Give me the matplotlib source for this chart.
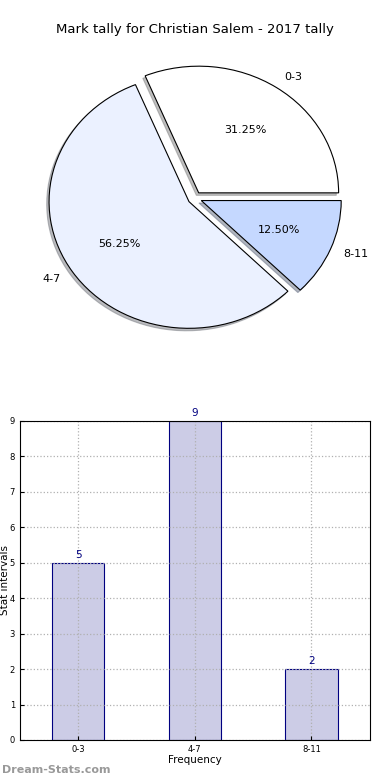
import numpy as np
import matplotlib.pyplot as plt

# data
categories = ['0-3', '4-7', '8-11']
counts = [5, 9, 2]
pie_colors = ['#ffffff', '#ebf1ff', '#c5d8ff']
title = 'Mark tally for Christian Salem - 2017 tally'

fig = plt.figure(figsize=(3.9, 7.8), dpi=100)

# pie (not forced round, like the old style)
ax1 = fig.add_axes([0.051, 0.543, 0.897, 0.406])
wedges, texts, autotexts = ax1.pie(counts, labels=categories, colors=pie_colors,
                                   explode=[0.05, 0.05, 0.05], autopct='%1.2f%%',
                                   shadow={'ox': -0.012, 'oy': -0.014, 'shade': 0.5},
                                   startangle=0,
                                   wedgeprops=dict(edgecolor='black', linewidth=0.8),
                                   textprops=dict(fontsize=8))
ax1.set_aspect('auto')
ax1.set_xlim(-1.25, 1.25)
ax1.set_ylim(-1.25, 1.25)
fig.text(0.5, 1 - 30 / 780, title, ha='center', va='center', fontsize=9.5)

# bars
ax2 = fig.add_axes([0.051, 0.0513, 0.897, 0.409])
x = np.arange(len(categories))
bars = ax2.bar(x, counts, width=0.45, color='#ccccE6', edgecolor='#000080', linewidth=0.8)
for xi, c in zip(x, counts):
    ax2.text(xi, c + 0.08, str(c), ha='center', va='bottom', color='#000080', fontsize=7.5)
ax2.set_xlim(-0.5, 2.5)
ax2.set_ylim(0, 9)
ax2.set_xticks(x)
ax2.set_xticklabels(categories)
ax2.set_yticks(range(0, 10))
ax2.tick_params(labelsize=6, direction='in', length=3)
ax2.grid(True, linestyle=':', color='#b0b0b0', linewidth=0.9)
ax2.set_axisbelow('line')
ax2.set_xlabel('Frequency', fontsize=7.5, labelpad=1)
ax2.set_ylabel('Stat intervals', fontsize=7.5)
ax2.yaxis.set_label_coords(-0.028, 0.5)

fig.text(0.005, 1 - 770 / 780, 'Dream-Stats.com', color='#999999', fontsize=8,
         fontweight='bold', ha='left', va='center')

fig.savefig('out.png', dpi=100)
